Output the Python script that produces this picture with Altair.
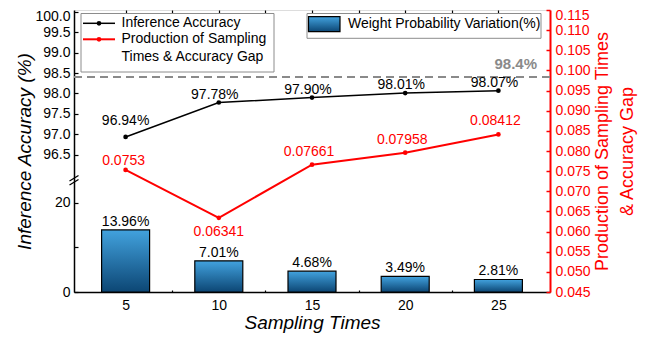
import altair as alt
import pandas as pd

# ---------------- data ----------------
sampling_times = [5, 10, 15, 20, 25]
inference_accuracy = [96.94, 97.78, 97.90, 98.01, 98.07]
accuracy_labels = ["96.94%", "97.78%", "97.90%", "98.01%", "98.07%"]
gap_product = [0.0753, 0.06341, 0.07661, 0.07958, 0.08412]
gap_labels = ["0.0753", "0.06341", "0.07661", "0.07958", "0.08412"]
weight_variation = [13.96, 7.01, 4.68, 3.49, 2.81]
weight_labels = ["13.96%", "7.01%", "4.68%", "3.49%", "2.81%"]
reference_accuracy = [98.4]
reference_label = ["98.4%"]

x_ticks = [5, 10, 15, 20, 25]
x_minor_ticks = [7.5, 12.5, 17.5, 22.5]
x_top_ticks = [5, 7.5, 10, 12.5, 15, 17.5, 20, 22.5, 25]
acc_ticks = [96.5, 97.0, 97.5, 98.0, 98.5, 99.0, 99.5, 100.0]
bar_ticks = [0, 10, 20]
gap_ticks = [0.045, 0.050, 0.055, 0.060, 0.065, 0.070, 0.075, 0.080,
             0.085, 0.090, 0.095, 0.100, 0.105, 0.110, 0.115]

legend_line_labels = ["Inference Accuracy", "Production of Sampling", "Times & Accuracy Gap"]
legend_bar_label = "Weight Probability Variation(%)"
x_title = "Sampling Times"
left_title = "Inference Accuracy (%)"
right_title = ["Production of Sampling Times", "& Accuracy Gap"]

df = pd.DataFrame({
    "t": sampling_times,
    "acc": inference_accuracy,
    "accl": accuracy_labels,
    "g": gap_product,
    "gl": gap_labels,
    "w": weight_variation,
    "wl": weight_labels,
})
ref_df = pd.DataFrame({"acc": reference_accuracy, "lab": reference_label})
one = pd.DataFrame({"k": [0]})

FONT = "Liberation Sans"
W, H = 476, 282
common_axis = dict(labelFont=FONT, labelFontSize=14, labelColor="black",
                   titleFont=FONT, titleColor="black", grid=False,
                   tickColor="black", domainColor="black", titleFontWeight="normal")


def tick_axis(orient, values, size, color="black", width=1.2):
    # tick-only axis, placed on the opposite edge so the ticks point inward
    off = -W if orient in ("left", "right") else -H
    return alt.Axis(orient=orient, offset=off, values=values, labels=False,
                    domain=False, title=None, grid=False, tickSize=size,
                    tickColor=color, tickWidth=width)


# ---------------- scales / encodings ----------------
xscale = alt.Scale(domain=[2.5, 27.5], nice=False, zero=False)
x_axis = alt.Axis(values=x_ticks, title=x_title, titleFontStyle="italic",
                  titleFontSize=19, ticks=False, tickSize=0, labelPadding=6,
                  titlePadding=1, domainWidth=1.5, labelFlush=False, **common_axis)
X_main = alt.X("t:Q", scale=xscale, axis=x_axis)
X_plain = alt.X("t:Q", scale=xscale, axis=None)

bar_scale = alt.Scale(domain=[0, 63.37], nice=False, zero=True)
Y_bar = alt.Y("w:Q", scale=bar_scale,
              axis=alt.Axis(orient="left", values=bar_ticks, title=None,
                            labelExpr="datum.value == 10 ? '' : datum.label",
                            domain=False, ticks=False, tickSize=0, labelPadding=4,
                            **common_axis))
Y_bar_plain = alt.Y("w:Q", scale=bar_scale, axis=None)
Y_bar_ticks = alt.Y("w:Q", scale=bar_scale, axis=tick_axis("right", bar_ticks, 4))

acc_scale = alt.Scale(domain=[93.1585, 100.0366], nice=False, zero=False)
Y_acc = alt.Y("acc:Q", scale=acc_scale,
              axis=alt.Axis(orient="left", values=acc_ticks, format=".1f",
                            title=left_title, titleFontStyle="italic",
                            titleFontSize=19, ticks=False, tickSize=0, labelPadding=4,
                            titlePadding=0, domainWidth=1.5,
                            labelOffset={"condition": {"test": "datum.value >= 99.99", "value": 5}, "value": 0},
                            **common_axis))
Y_acc_plain = alt.Y("acc:Q", scale=acc_scale, axis=None)
Y_acc_ticks = alt.Y("acc:Q", scale=acc_scale, axis=tick_axis("right", acc_ticks, 4))

gap_axis_style = dict(common_axis)
gap_axis_style.update(labelColor="red", titleColor="red", tickColor="red", domainColor="red")
gap_scale = alt.Scale(domain=[0.045, 0.115], nice=False, zero=False)
Y_gap = alt.Y("g:Q", scale=gap_scale,
              axis=alt.Axis(orient="right", values=gap_ticks, format=".3f",
                            title=right_title, domainWidth=2,
                            ticks=False, tickSize=0, labelPadding=5,
                            titleFontSize=18, titleAngle=270, titlePadding=-4,
                            titleLineHeight=25,
                            labelOffset={"condition": {"test": "datum.value >= 0.1149", "value": 5}, "value": 0},
                            **gap_axis_style))
Y_gap_plain = alt.Y("g:Q", scale=gap_scale, axis=None)
Y_gap_ticks = alt.Y("g:Q", scale=gap_scale, axis=tick_axis("left", gap_ticks, 4, "red", 1.5))

grad = alt.Gradient(gradient="linear",
                    stops=[alt.GradientStop(color="#42a2de", offset=0),
                           alt.GradientStop(color="#0c4674", offset=1)],
                    x1=0, x2=0, y1=0, y2=1)

txt = dict(font=FONT, fontSize=14, baseline="middle")
base = alt.Chart(df)

# ---------------- bars ----------------
bars = base.mark_bar(size=48, color=grad, stroke="black", strokeWidth=1.2).encode(x=X_main, y=Y_bar)
bar_text = base.mark_text(dy=-8, color="black", **txt).encode(x=X_main, y=Y_bar_plain, text="wl:N")
bar_ticks_layer = base.mark_point(opacity=0).encode(x=X_main, y=Y_bar_ticks)
bar_layer = alt.layer(bars, bar_text, bar_ticks_layer).resolve_axis(y="independent")

# ---------------- accuracy line ----------------
acc_line = base.mark_line(color="black", strokeWidth=1.5,
                          point=alt.OverlayMarkDef(filled=True, size=22, color="black")
                          ).encode(x=X_plain, y=Y_acc)
acc_text_first = base.mark_text(dy=-16, color="black", **txt).encode(
    x=X_plain, y=Y_acc_plain, text="accl:N").transform_filter("datum.t == 5")
acc_text_rest = base.mark_text(dy=-8, dx=-4, color="black", **txt).encode(
    x=X_plain, y=Y_acc_plain, text="accl:N").transform_filter("datum.t != 5")
ref_rule = alt.Chart(ref_df).mark_rule(color="#8a8a8a", strokeDash=[8, 5], strokeWidth=2).encode(y=Y_acc_plain)
ref_text = alt.Chart(ref_df).mark_text(color="#8a8a8a", fontWeight="bold", font=FONT,
                                       fontSize=15, align="right", baseline="middle", dy=-13
                                       ).encode(x=alt.value(463), y=Y_acc_plain, text="lab:N")
acc_ticks_layer = base.mark_point(opacity=0).encode(x=X_plain, y=Y_acc_ticks)
acc_layer = alt.layer(ref_rule, ref_text, acc_line, acc_text_first, acc_text_rest,
                      acc_ticks_layer).resolve_axis(y="independent")

# ---------------- gap line ----------------
gap_line = base.mark_line(color="red", strokeWidth=2,
                          point=alt.OverlayMarkDef(filled=True, size=22, color="red")
                          ).encode(x=X_plain, y=Y_gap)
gap_text_5 = base.mark_text(dy=-9, dx=-2, color="red", **txt).encode(
    x=X_plain, y=Y_gap_plain, text="gl:N").transform_filter("datum.t == 5")
gap_text_10 = base.mark_text(dy=14, color="red", **txt).encode(
    x=X_plain, y=Y_gap_plain, text="gl:N").transform_filter("datum.t == 10")
gap_text_rest = base.mark_text(dy=-13, dx=-3, color="red", **txt).encode(
    x=X_plain, y=Y_gap_plain, text="gl:N").transform_filter("datum.t > 10")
gap_ticks_layer = base.mark_point(opacity=0).encode(x=X_plain, y=Y_gap_ticks)
gap_layer = alt.layer(gap_line, gap_text_5, gap_text_10, gap_text_rest,
                      gap_ticks_layer).resolve_axis(y="independent")

# ---------------- inward x ticks ----------------
xt_bottom = base.mark_point(opacity=0).encode(
    x=alt.X("t:Q", scale=xscale, axis=tick_axis("top", x_ticks, 4)), y=alt.value(0))
xt_bottom_minor = base.mark_point(opacity=0).encode(
    x=alt.X("t:Q", scale=xscale, axis=tick_axis("top", x_minor_ticks, 2)), y=alt.value(0))
xt_top = base.mark_point(opacity=0).encode(
    x=alt.X("t:Q", scale=xscale, axis=tick_axis("bottom", x_top_ticks, 4)), y=alt.value(0))

# ---------------- legends (decoration, pixel placed) ----------------
leg = alt.Chart(one)
box1 = leg.mark_rect(fill="white", stroke="#8c8c8c", strokeWidth=1).encode(
    x=alt.value(7), x2=alt.value(200), y=alt.value(3.5), y2=alt.value(62))
l1 = leg.mark_rule(color="black", strokeWidth=1.5).encode(x=alt.value(9), x2=alt.value(41), y=alt.value(13.3))
p1 = leg.mark_point(filled=True, color="black", size=22, opacity=1).encode(x=alt.value(25), y=alt.value(13.3))
l2 = leg.mark_rule(color="red", strokeWidth=2).encode(x=alt.value(9), x2=alt.value(41), y=alt.value(29.3))
p2 = leg.mark_point(filled=True, color="red", size=22, opacity=1).encode(x=alt.value(25), y=alt.value(29.3))
t1 = leg.mark_text(text=legend_line_labels[0], align="left", color="black", **txt).encode(x=alt.value(47.5), y=alt.value(12.8))
t2 = leg.mark_text(text=legend_line_labels[1], align="left", color="black", **txt).encode(x=alt.value(47.5), y=alt.value(29.3))
t3 = leg.mark_text(text=legend_line_labels[2], align="left", color="black", **txt).encode(x=alt.value(47.5), y=alt.value(46.7))

box2 = leg.mark_rect(fill="white", stroke="#8c8c8c", strokeWidth=1).encode(
    x=alt.value(233), x2=alt.value(467), y=alt.value(3.5), y2=alt.value(28.3))
sw = leg.mark_rect(color=grad, stroke="black", strokeWidth=1.2).encode(
    x=alt.value(234.5), x2=alt.value(266), y=alt.value(6.7), y2=alt.value(21.7))
t4 = leg.mark_text(text=legend_bar_label, align="left", color="black", **txt).encode(x=alt.value(274), y=alt.value(14))

# axis break marks
brk1 = leg.mark_rule(color="black", strokeWidth=1.3).encode(
    x=alt.value(-4.5), x2=alt.value(4.5), y=alt.value(175), y2=alt.value(169.5))
brk2 = leg.mark_rule(color="black", strokeWidth=1.3).encode(
    x=alt.value(-4.5), x2=alt.value(4.5), y=alt.value(171), y2=alt.value(165.5))

legend_layer = alt.layer(box1, l1, p1, l2, p2, t1, t2, t3, box2, sw, t4, brk1, brk2)

chart = alt.layer(bar_layer, acc_layer, gap_layer, xt_bottom, xt_bottom_minor, xt_top,
                  legend_layer).resolve_scale(
    y="independent").resolve_axis(x="independent", y="independent").properties(
    width=W, height=H,
    autosize=alt.AutoSizeParams(type="none"),
    padding={"left": 66, "top": 2, "right": 99, "bottom": 44},
).configure_view(stroke="black", strokeWidth=1.5).configure(background="white")

chart.save("out.html", embed_options={"renderer": "svg", "actions": False})
